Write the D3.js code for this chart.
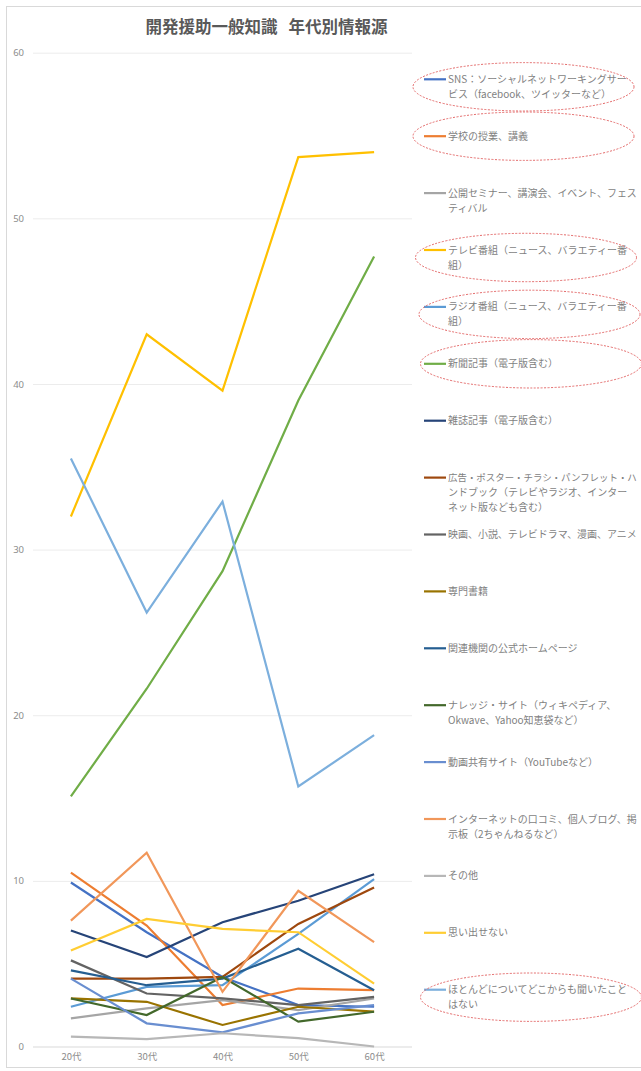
<!DOCTYPE html>
<html>
<head>
<meta charset="utf-8">
<script src="https://cdn.jsdelivr.net/npm/d3@7"></script>
<style>
  html, body { margin: 0; padding: 0; background: #fff; }
  svg { display: block; }
  text { font-family: "Noto Sans CJK JP", "Noto Sans", sans-serif; }
</style>
</head>
<body>
<svg id="chart" width="641" height="1071"></svg>
<script>
// Age groups on the x axis
const ageGroups = ["20代", "30代", "40代", "50代", "60代"];
const yTicks = [0, 10, 20, 30, 40, 50, 60];

// Share of respondents (%) naming each information source, by age group
const snsVals        = [9.9, 6.9, 4.2, 2.5, 2.4];
const schoolVals     = [10.5, 7.3, 2.5, 3.5, 3.4];
const seminarVals    = [1.7, 2.3, 2.8, 2.2, 2.9];
const tvVals         = [32.0, 43.0, 39.6, 53.7, 54.0];
const radioVals      = [2.4, 3.6, 3.7, 6.8, 10.1];
const newspaperVals  = [15.1, 21.6, 28.7, 39.0, 47.7];
const magazineVals   = [7.0, 5.4, 7.5, 8.8, 10.4];
const adVals         = [4.1, 4.1, 4.2, 7.4, 9.6];
const movieVals      = [5.2, 3.2, 2.9, 2.5, 3.0];
const booksVals      = [2.9, 2.7, 1.3, 2.4, 2.1];
const officialVals   = [4.6, 3.7, 4.1, 5.9, 3.4];
const knowledgeVals  = [2.9, 1.9, 4.2, 1.5, 2.1];
const videoVals      = [4.1, 1.4, 0.85, 2.0, 2.5];
const netVals        = [7.6, 11.7, 3.3, 9.4, 6.3];
const otherVals      = [0.6, 0.45, 0.8, 0.5, 0.0];
const forgotVals     = [5.8, 7.7, 7.1, 6.9, 3.8];
const neverVals      = [35.5, 26.2, 32.9, 15.7, 18.8];

// Legend labels, already broken into display lines
const sourceLabels = [
  ["SNS：ソーシャルネットワーキングサー", "ビス（facebook、ツイッターなど）"],
  ["学校の授業、講義"],
  ["公開セミナー、講演会、イベント、フェス", "ティバル"],
  ["テレビ番組（ニュース、バラエティー番", "組）"],
  ["ラジオ番組（ニュース、バラエティー番", "組）"],
  ["新聞記事（電子版含む）"],
  ["雑誌記事（電子版含む）"],
  ["広告・ポスター・チラシ・パンフレット・ハ", "ンドブック（テレビやラジオ、インター", "ネット版なども含む）"],
  ["映画、小説、テレビドラマ、漫画、アニメ"],
  ["専門書籍"],
  ["関連機関の公式ホームページ"],
  ["ナレッジ・サイト（ウィキペディア、", "Okwave、Yahoo知恵袋など）"],
  ["動画共有サイト（YouTubeなど）"],
  ["インターネットの口コミ、個人ブログ、掲", "示板（2ちゃんねるなど）"],
  ["その他"],
  ["思い出せない"],
  ["ほとんどについてどこからも聞いたこと", "はない"]
];

const sourceColors = [
  "#4472C4", "#ED7D31", "#A5A5A5", "#FFC000", "#5B9BD5", "#70AD47",
  "#264478", "#9E480E", "#636363", "#997300", "#255E91", "#43682B",
  "#698ED0", "#F1975A", "#B7B7B7", "#FFCD33", "#7CAFDD"
];

// Legend entries ringed by a dashed highlight, with each ring's centre x
const highlighted = [0, 1, 3, 4, 5, 16];
const ringCentersX = [523.5, 523.5, 526, 529.5, 531, 531];

const seriesValues = [
  snsVals, schoolVals, seminarVals, tvVals, radioVals, newspaperVals,
  magazineVals, adVals, movieVals, booksVals, officialVals, knowledgeVals,
  videoVals, netVals, otherVals, forgotVals, neverVals
];

const series = seriesValues.map((vals, i) => ({
  label: sourceLabels[i],
  color: sourceColors[i],
  points: vals.map((v, j) => ({ age: ageGroups[j], value: v }))
}));

const svg = d3.select("#chart");

// Outer chart frame
svg.append("rect")
  .attr("x", 6.5).attr("y", 6.5)
  .attr("width", 660).attr("height", 1061)
  .attr("fill", "#fff")
  .attr("stroke", "#d9d9d9").attr("stroke-width", 1);

// Title
const title = svg.append("text")
  .attr("x", 266.5).attr("y", 33)
  .attr("text-anchor", "middle")
  .attr("font-size", 16.5).attr("font-weight", "bold")
  .attr("fill", "#595959");
title.append("tspan").text("開発援助一般知識");
title.append("tspan").attr("dx", 11).text("年代別情報源");

// Plot area
const plotLeft = 33, plotRight = 412;
const x = d3.scalePoint().domain(ageGroups).range([plotLeft, plotRight]).padding(0.5);
const y = d3.scaleLinear().domain([0, 60]).range([1046.5, 52.7]);

// Y axis with gridlines
const yAxis = svg.append("g")
  .attr("transform", `translate(${plotLeft},0)`)
  .call(d3.axisLeft(y).tickValues(yTicks).tickSize(-(plotRight - plotLeft)).tickPadding(9));
yAxis.select(".domain").remove();
yAxis.selectAll(".tick line")
  .attr("stroke", d => d === 0 ? "#d9d9d9" : "#ececec")
  .attr("stroke-width", 1);
yAxis.selectAll(".tick text")
  .attr("fill", "#8c8c8c").attr("font-size", 9.5)
  .style("font-family", "'Noto Sans', sans-serif");

// X axis labels
const xAxis = svg.append("g")
  .attr("transform", `translate(0,${y(0)})`)
  .call(d3.axisBottom(x).tickSize(0).tickPadding(7));
xAxis.select(".domain").remove();
xAxis.selectAll(".tick text")
  .attr("fill", "#8c8c8c").attr("font-size", 9.5);

// Series lines
const line = d3.line()
  .x(d => x(d.age))
  .y(d => y(d.value));

svg.append("g")
  .selectAll("path")
  .data(series)
  .join("path")
  .attr("d", d => line(d.points))
  .attr("fill", "none")
  .attr("stroke", d => d.color)
  .attr("stroke-width", 2.2)
  .attr("stroke-linejoin", "miter");

// Legend
const legendTop = 79.3, legendStep = 56.9, lineHeight = 15;
const legendTextX = 448, legendMaxWidth = 189, legendFontSize = 10;
const legend = svg.append("g");
const items = legend.selectAll("g")
  .data(series)
  .join("g")
  .attr("transform", (d, i) => `translate(0,${legendTop + i * legendStep})`);

items.append("line")
  .attr("x1", 424).attr("x2", 446)
  .attr("y1", 0).attr("y2", 0)
  .attr("stroke", d => d.color)
  .attr("stroke-width", 2.2);

// one text element per display line, so long lines can be shrunk to fit
items.selectAll("text")
  .data(d => d.label)
  .join("text")
  .attr("x", legendTextX)
  .attr("y", (d, k) => k * lineHeight)
  .attr("dy", "0.35em")
  .attr("font-size", legendFontSize)
  .attr("fill", "#7f7f7f")
  .text(d => d)
  .each(function () {
    const w = this.getComputedTextLength();
    if (w > legendMaxWidth) {
      d3.select(this).attr("font-size", legendFontSize * legendMaxWidth / w);
    }
  });

// Dashed highlight rings around selected legend entries
legend.selectAll("ellipse")
  .data(highlighted)
  .join("ellipse")
  .attr("cx", (d, k) => ringCentersX[k])
  .attr("cy", d => {
    const n = series[d].label.length;
    return legendTop + d * legendStep + (n - 1) * lineHeight / 2;
  })
  .attr("rx", 110.5)
  .attr("ry", 24.2)
  .attr("fill", "none")
  .attr("stroke", "#e05a5a")
  .attr("stroke-width", 0.9)
  .attr("stroke-dasharray", "2,1.5");
</script>
</body>
</html>
